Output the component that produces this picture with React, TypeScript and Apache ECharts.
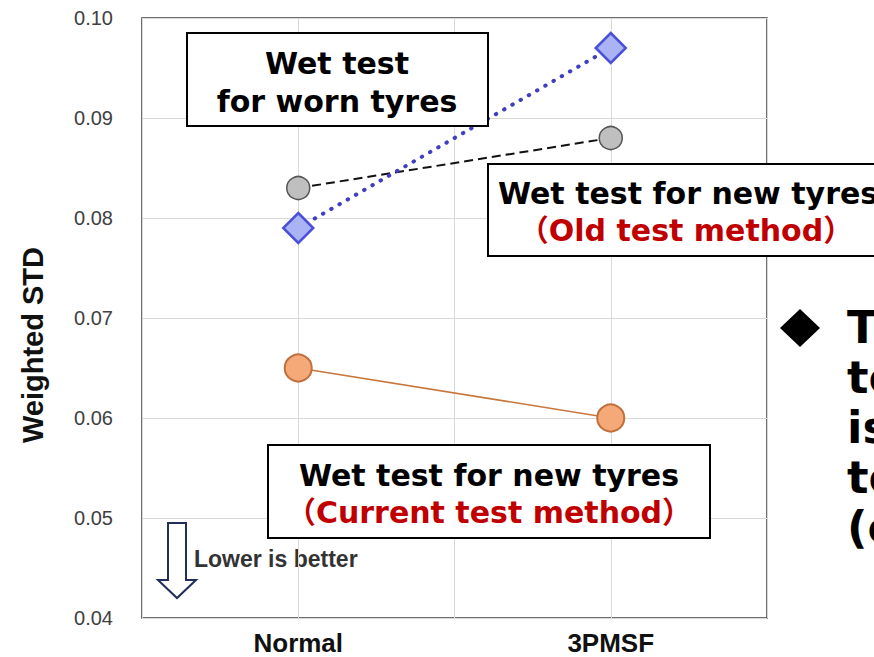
import React, { useEffect, useRef } from "react";
import * as echarts from "echarts";

const categories = ["Normal", "3PMSF"];
const currentMethod = [0.065, 0.06];
const oldMethod = [0.083, 0.088];
const wornTyres = [0.079, 0.097];
const yTicks = { min: 0.04, max: 0.1, interval: 0.01 };

const axisData = ["", categories[0], "", categories[1], ""];
const pad = (v: number[]) => [null, v[0], null, v[1], null];

const BOX = "'DejaVu Sans', 'Noto Sans CJK JP', sans-serif";
const SANS = "'Liberation Sans', Arial, sans-serif";

export default function App() {
  const ref = useRef<HTMLDivElement>(null);
  useEffect(() => {
    if (!ref.current) return;
    const chart = echarts.init(ref.current, null, { renderer: "svg" });
    const boxText = (text: string, x: number, y: number, color: string, align = "center") => ({
      type: "text",
      x,
      y,
      z: 101,
      style: {
        text,
        fill: color,
        font: `bold 30px ${BOX}`,
        textAlign: align,
        textVerticalAlign: "middle",
      },
    });
    chart.setOption({
      animation: false,
      backgroundColor: "#ffffff",
      grid: {
        left: 142,
        right: 107,
        top: 18,
        bottom: 39,
        show: true,
        borderColor: "#404040",
        borderWidth: 1.5,
        backgroundColor: "transparent",
      },
      xAxis: {
        type: "category",
        data: axisData,
        boundaryGap: false,
        axisLine: { show: false },
        axisTick: { show: false },
        axisLabel: {
          interval: 0,
          color: "#111",
          fontFamily: SANS,
          fontWeight: "bold",
          fontSize: 26,
          margin: 12,
        },
        splitLine: { show: true, lineStyle: { color: "#d9d9d9", width: 1 } },
      },
      yAxis: {
        type: "value",
        min: yTicks.min,
        max: yTicks.max,
        interval: yTicks.interval,
        axisLine: { show: false },
        axisTick: { show: false },
        axisLabel: {
          color: "#404040",
          fontFamily: SANS,
          fontSize: 20,
          margin: 29,
          formatter: (v: number) => v.toFixed(2),
        },
        splitLine: { show: true, lineStyle: { color: "#d9d9d9", width: 1 } },
      },
      series: [
        {
          name: "Current",
          type: "line",
          data: pad(currentMethod),
          connectNulls: true,
          symbol: "circle",
          symbolSize: 27,
          lineStyle: { color: "#c8763c", width: 1.5 },
          itemStyle: { color: "#f5a878", borderColor: "#c0703a", borderWidth: 2 },
          z: 3,
        },
        {
          name: "Old",
          type: "line",
          data: pad(oldMethod),
          connectNulls: true,
          symbol: "circle",
          symbolSize: 23,
          lineStyle: { color: "#111", width: 2, type: [9, 5] },
          itemStyle: { color: "#bfbfbf", borderColor: "#555", borderWidth: 1.5 },
          z: 3,
        },
        {
          name: "Worn",
          type: "line",
          data: pad(wornTyres),
          connectNulls: true,
          symbol: "diamond",
          symbolSize: [30, 30],
          lineStyle: { color: "#3f3fbf", width: 4, type: [0.5, 9], cap: "round" },
          itemStyle: { color: "#aab4f5", borderColor: "#4b50d8", borderWidth: 2.5 },
          z: 4,
        },
      ],
      graphic: [
        {
          type: "text",
          x: 33,
          y: 345,
          rotation: Math.PI / 2,
          style: {
            text: "Weighted STD",
            fill: "#111",
            font: `bold 29px ${SANS}`,
            textAlign: "center",
            textVerticalAlign: "middle",
          },
        },
        {
          type: "rect",
          z: 100,
          shape: { x: 187, y: 33, width: 301, height: 93 },
          style: { fill: "#fff", stroke: "#000", lineWidth: 2 },
        },
        boxText("Wet test", 337, 63, "#000"),
        boxText("for worn tyres", 337, 101, "#000"),
        {
          type: "rect",
          z: 100,
          shape: { x: 488, y: 164, width: 420, height: 92 },
          style: { fill: "#fff", stroke: "#000", lineWidth: 2 },
        },
        boxText("Wet test for new tyres", 498, 193, "#000", "left"),
        boxText("（Old test method）", 686, 230, "#c00000"),
        {
          type: "rect",
          z: 100,
          shape: { x: 268, y: 445, width: 442, height: 93 },
          style: { fill: "#fff", stroke: "#000", lineWidth: 2 },
        },
        boxText("Wet test for new tyres", 489, 475, "#000"),
        boxText("（Current test method）", 489, 512, "#c00000"),
        {
          type: "polygon",
          shape: {
            points: [
              [168, 523],
              [186, 523],
              [186, 580],
              [196, 580],
              [177, 598],
              [158, 580],
              [168, 580],
            ],
          },
          style: { fill: "#fff", stroke: "#1f2f5a", lineWidth: 2 },
        },
        {
          type: "text",
          x: 194,
          y: 559,
          style: {
            text: "Lower is better",
            fill: "#333",
            font: `bold 23px ${SANS}`,
            textAlign: "left",
            textVerticalAlign: "middle",
          },
        },
        {
          type: "polygon",
          shape: {
            points: [
              [800, 309],
              [820, 328],
              [800, 347],
              [780, 328],
            ],
          },
          style: { fill: "#000" },
        },
        {
          type: "text",
          x: 847,
          y: 302,
          style: {
            text: "T\nto\nis\nto\n(c",
            fill: "#000",
            font: `bold 45px ${BOX}`,
            lineHeight: 50,
            textAlign: "left",
            textVerticalAlign: "top",
          },
        },
      ],
    });
    return () => chart.dispose();
  }, []);
  return <div ref={ref} style={{ width: 874, height: 657, position: "absolute", left: 0, top: 0 }} />;
}
